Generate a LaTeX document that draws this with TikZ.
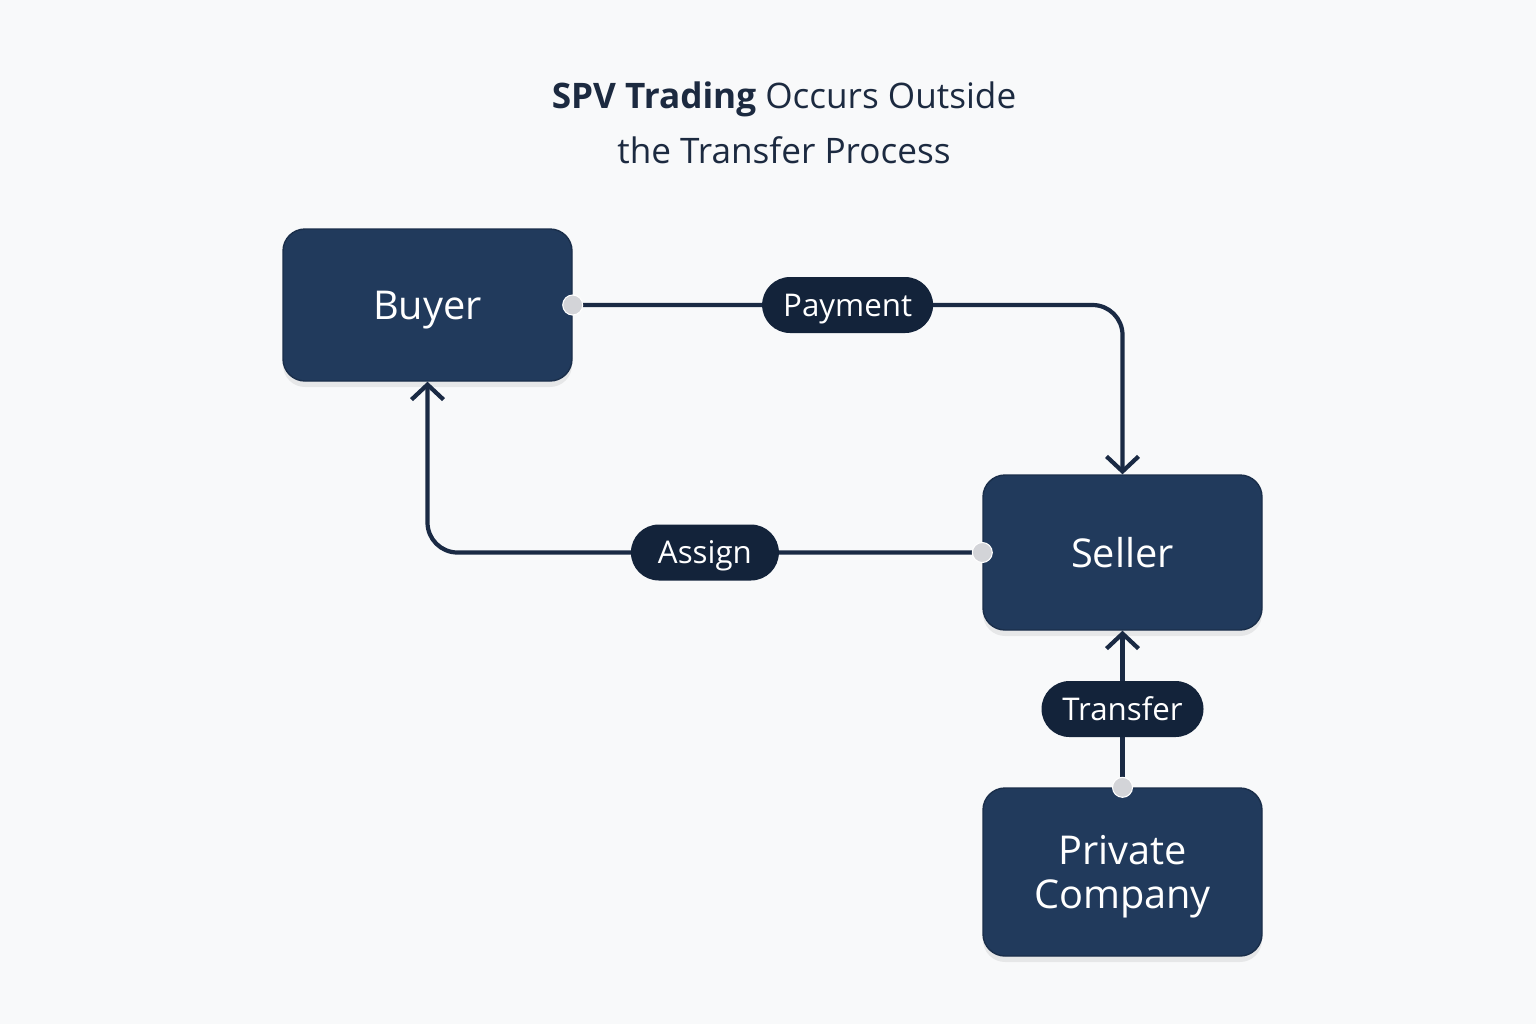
\documentclass[tikz,border=0pt]{standalone}
\usepackage{fontspec}
\setmainfont{Open Sans}
\usetikzlibrary{arrows.meta,shadows}

\definecolor{bgcol}{HTML}{F8F9FA}
\definecolor{boxcol}{HTML}{213A5C}
\definecolor{pillcol}{HTML}{13233A}
\definecolor{linecol}{HTML}{1A2A44}
\definecolor{dotcol}{HTML}{D3D4D8}
\definecolor{titlecol}{HTML}{1C2A40}

\tikzset{
    party/.style={draw=boxcol!80!black,line width=0.4pt,fill=boxcol,rounded corners=0.22cm,
        text=white,align=center,inner sep=0pt,text depth=0pt,
        font=\fontsize{11.3}{12.6}\selectfont,
        drop shadow={shadow xshift=0pt,shadow yshift=-0.06cm,opacity=0.07,fill=black}},
    pill/.style={fill=pillcol,rounded corners=0.28cm,text=white,inner sep=0pt,
        minimum height=0.56cm,text depth=0pt,font=\fontsize{8.9}{10}\selectfont},
    flow/.style={draw=linecol,line width=1.2pt,rounded corners=0.3cm,
        -{Straight Barb[length=0.15cm,width=0.32cm,line width=1.2pt]}},
    port/.style={fill=dotcol,draw=white,line width=0.3pt}
}

\begin{document}
\begin{tikzpicture}
    \fill[bgcol] (0,0) rectangle (15.36,-10.24);
    \useasboundingbox (0,0) rectangle (15.36,-10.24);
    % title
    \node[text=titlecol,align=center,font=\fontsize{10}{15.6}\selectfont] (title) at (7.84,-1.23)
        {\textbf{SPV Trading} Occurs Outside\\the Transfer Process};
    % parties
    \node[party,minimum width=2.89cm,minimum height=1.52cm] (buyer) at (4.275,-3.05) {Buyer};
    \node[party,minimum width=2.79cm,minimum height=1.55cm] (seller) at (11.225,-5.525) {Seller};
    \node[party,minimum width=2.79cm,minimum height=1.68cm] (company) at (11.225,-8.72) {Private\\Company};
    % flows
    \draw[flow] (buyer.east) -| node[pill,pos=0.25,minimum width=1.71cm] (payment) {Payment} (seller.north);
    \draw[flow] (seller.west) -| node[pill,pos=0.25,minimum width=1.48cm] (assign) {Assign} (buyer.south);
    \draw[flow] (company.north) -- node[pill,minimum width=1.62cm] (transfer) {Transfer} (seller.south);
    % ports
    \filldraw[port] (buyer.east) circle[radius=0.1];
    \filldraw[port] (seller.west) circle[radius=0.1];
    \filldraw[port] (company.north) circle[radius=0.1];
\end{tikzpicture}
\end{document}
